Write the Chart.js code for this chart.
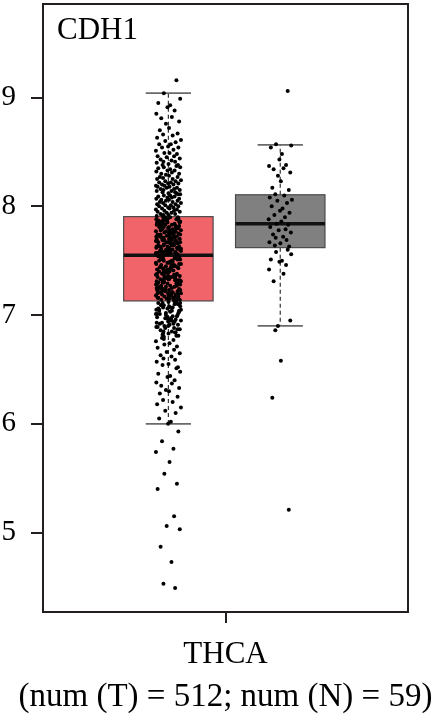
<!DOCTYPE html>
<html>
<head>
<meta charset="utf-8">
<script src="https://cdn.jsdelivr.net/npm/chart.js@4.4.1/dist/chart.umd.min.js"></script>
<style>
html,body{margin:0;padding:0;background:#fff;}
#wrap{width:435px;height:716px;}
canvas{display:block;}
</style>
</head>
<body>
<div id="wrap"><canvas id="c" width="435" height="716"></canvas></div>
<script>
// ---------------- DATA ----------------
const geneName = "CDH1";
const categories = ["THCA"];
const groupNames = ["T", "N"];
const groupCounts = [512, 59];
const yTickValues = [5, 6, 7, 8, 9];

// box statistics: [lower whisker, Q1, median, Q3, upper whisker]
const tumorBox = [6.00, 7.13, 7.55, 7.905, 9.04];
const normalBox = [6.90, 7.62, 7.84, 8.106, 8.565];

// tumor expression values (log2(TPM+1)), read from the strip
const tumorValues = [
  9.16, 9.04, 8.99, 8.95, 8.93, 8.91, 8.88, 8.85, 8.82, 8.81, 8.78, 8.76, 8.72, 8.70, 8.67, 8.66, 8.65, 8.63, 8.61, 8.60,
  8.59, 8.57, 8.57, 8.55, 8.54, 8.54, 8.52, 8.51, 8.49, 8.49, 8.48, 8.46, 8.46, 8.45, 8.44, 8.43, 8.42, 8.41, 8.41, 8.40,
  8.39, 8.38, 8.38, 8.37, 8.36, 8.36, 8.35, 8.34, 8.33, 8.33, 8.32, 8.31, 8.30, 8.30, 8.29, 8.28, 8.27, 8.27, 8.26, 8.25,
  8.25, 8.24, 8.23, 8.23, 8.22, 8.22, 8.21, 8.21, 8.20, 8.20,
  8.19, 8.18, 8.19, 8.17, 8.18, 8.16, 8.17, 8.15, 8.16, 8.14, 8.15, 8.13, 8.14, 8.12, 8.13, 8.11, 8.12, 8.10, 8.11, 8.09,
  8.10, 8.08, 8.09, 8.07, 8.08, 8.06, 8.07, 8.05, 8.06, 8.04, 8.05, 8.03, 8.04, 8.02, 8.03, 8.01, 8.02, 8.00, 8.01, 7.99,
  8.00, 7.98, 7.99, 7.97, 7.98, 7.96, 7.97, 7.95, 7.96, 7.94, 7.95, 7.93, 7.94, 7.92, 7.93, 7.91, 7.92, 7.91,
  7.90, 7.88, 7.89, 7.86, 7.87, 7.90, 7.85, 7.84, 7.88, 7.83, 7.86, 7.82, 7.89, 7.81, 7.84, 7.80,
  7.87, 7.79, 7.85, 7.78, 7.83, 7.77, 7.81, 7.76, 7.80, 7.75, 7.79, 7.74, 7.77, 7.73, 7.76, 7.72,
  7.74, 7.71, 7.73, 7.70, 7.72, 7.69, 7.71, 7.68, 7.70, 7.67, 7.69, 7.66, 7.68, 7.65, 7.67, 7.64,
  7.66, 7.63, 7.65, 7.62, 7.64, 7.61, 7.63, 7.60, 7.62, 7.59, 7.61, 7.58, 7.60, 7.57, 7.59, 7.56,
  7.58, 7.55, 7.57, 7.56, 7.89, 7.82, 7.75, 7.68, 7.61, 7.87, 7.80, 7.73, 7.66, 7.59, 7.85, 7.78,
  7.71, 7.64, 7.57, 7.83, 7.76, 7.69, 7.62, 7.55, 7.81, 7.74, 7.67, 7.60, 7.88, 7.79, 7.72, 7.65,
  7.58, 7.86, 7.77, 7.70, 7.63, 7.56, 7.84, 7.75, 7.68, 7.61, 7.90, 7.82, 7.73, 7.66, 7.59, 7.80,
  7.71, 7.64, 7.57, 7.78, 7.69, 7.62, 7.55, 7.76, 7.67, 7.60, 7.74, 7.65, 7.58, 7.72, 7.63, 7.56,
  7.54, 7.52, 7.53, 7.50, 7.51, 7.54, 7.49, 7.48, 7.52, 7.47, 7.50, 7.46, 7.53, 7.45, 7.48, 7.44,
  7.51, 7.43, 7.49, 7.42, 7.47, 7.41, 7.45, 7.40, 7.44, 7.39, 7.43, 7.38, 7.41, 7.37, 7.40, 7.36,
  7.38, 7.35, 7.37, 7.34, 7.36, 7.33, 7.35, 7.32, 7.34, 7.31, 7.33, 7.30, 7.32, 7.29, 7.31, 7.28,
  7.30, 7.27, 7.29, 7.26, 7.28, 7.25, 7.27, 7.24, 7.26, 7.23, 7.25, 7.22, 7.24, 7.21, 7.23, 7.20,
  7.22, 7.19, 7.21, 7.18, 7.20, 7.17, 7.19, 7.16, 7.18, 7.15, 7.17, 7.14, 7.16, 7.13, 7.15, 7.14,
  7.53, 7.46, 7.39, 7.32, 7.25, 7.18, 7.51, 7.44, 7.37, 7.30, 7.23, 7.16, 7.49, 7.42, 7.35, 7.28,
  7.21, 7.14, 7.47, 7.40, 7.33, 7.26, 7.19, 7.52, 7.45, 7.38, 7.31, 7.24, 7.17, 7.50, 7.43, 7.36,
  7.29, 7.22, 7.15, 7.48, 7.41, 7.34, 7.27, 7.20, 7.46, 7.39, 7.32, 7.25, 7.18, 7.42, 7.35, 7.28,
  7.12, 7.11, 7.10, 7.12, 7.09, 7.08, 7.11, 7.07, 7.06, 7.10, 7.05, 7.04, 7.09, 7.03, 7.02, 7.08,
  7.01, 7.00, 7.07, 6.99, 6.98, 7.05, 6.97, 6.96, 7.04, 6.95, 6.94, 7.02, 6.93, 6.92, 7.01, 6.91,
  6.90, 6.99, 6.89, 6.88, 6.97, 6.87, 6.86, 6.95, 6.85, 6.84, 6.93, 6.83, 6.82, 6.91, 6.81, 6.80,
  7.11, 7.06, 7.03, 6.98, 6.94, 6.89, 6.85, 7.09, 7.04, 7.00, 6.96, 6.92, 6.87, 6.83, 7.07, 7.01,
  6.95, 6.88, 6.84, 7.05, 6.97, 6.90, 6.81,
  6.79, 6.77, 6.76, 6.74, 6.73, 6.71, 6.70, 6.68, 6.66, 6.65, 6.63, 6.62, 6.60, 6.59, 6.57, 6.55, 6.54, 6.52, 6.51, 6.78,
  6.48, 6.46, 6.44, 6.43, 6.40, 6.38, 6.37, 6.35, 6.33, 6.31, 6.30, 6.28, 6.25, 6.22, 6.20, 6.18, 6.15, 6.12, 6.10, 6.05, 6.02, 6.00,
  5.93, 5.84, 5.77, 5.74, 5.65, 5.54, 5.45, 5.40, 5.15, 5.06, 5.03, 4.87, 4.73, 4.53, 4.49
];

// normal expression values
const normalValues = [
  9.06, 8.57, 8.56, 8.54, 8.48, 8.43, 8.38, 8.37, 8.35, 8.34, 8.31, 8.28, 8.23, 8.17, 8.15,
  8.11, 8.10, 8.08, 8.06, 8.05, 8.03, 8.00, 7.98, 7.96, 7.94, 7.92, 7.90, 7.88, 7.86,
  7.84, 7.83, 7.81, 7.79, 7.78, 7.76, 7.74, 7.72, 7.71, 7.69, 7.67, 7.66, 7.64, 7.63,
  7.60, 7.58, 7.56, 7.51, 7.50, 7.49, 7.46, 7.42, 7.38, 7.31, 6.95, 6.90, 6.58, 6.24, 5.21, 6.86
];

// horizontal jitter pattern for the strip (fraction of strip half-width)
const jitter = [
  0.62, -0.35, 0.91, -0.78, 0.14, -0.07, 0.48, -0.93, 0.27, -0.55, 0.83, -0.19, 0.05, -0.66, 0.71,
  -0.41, 0.33, -0.87, 0.97, -0.24, 0.56, -0.71, 0.19, -0.02, 0.77, -0.49, 0.39, -0.96, 0.09, -0.31,
  0.66, -0.83, 0.44, -0.13, 0.88, -0.60, 0.24, -0.38, 0.52, -0.90, 0.01, -0.45, 0.74
];

// ---------------- LAYOUT / STYLE ----------------
const FONT = "'Liberation Serif', 'Times New Roman', serif";
const INK = '#231f20';
const groupCenters = [-0.313, 0.300];
const stripHalf = [0.071, 0.066];
const BOX_HALF = 0.245;
const CAP_HALF = 0.124;
const boxFills = ['#f0646a', '#808080'];
const boxStats = [tumorBox, normalBox];

function stripPoints(values, g) {
  return values.map((v, i) => ({ x: groupCenters[g] + jitter[i % jitter.length] * stripHalf[g], y: v }));
}

const boxPlugin = {
  id: 'boxes',
  beforeDatasetsDraw(chart) {
    const { ctx, scales: { x, y } } = chart;
    boxStats.forEach((st, i) => {
      const c = groupCenters[i];
      const [lo, q1, med, q3, hi] = st;
      const xc = x.getPixelForValue(c);
      const xl = x.getPixelForValue(c - BOX_HALF), xr = x.getPixelForValue(c + BOX_HALF);
      const cl = x.getPixelForValue(c - CAP_HALF), cr = x.getPixelForValue(c + CAP_HALF);
      ctx.save();
      // whiskers
      ctx.strokeStyle = '#333';
      ctx.lineWidth = 1.2;
      ctx.setLineDash([4, 3]);
      ctx.beginPath();
      ctx.moveTo(xc, y.getPixelForValue(q3)); ctx.lineTo(xc, y.getPixelForValue(hi));
      ctx.moveTo(xc, y.getPixelForValue(q1)); ctx.lineTo(xc, y.getPixelForValue(lo));
      ctx.stroke();
      ctx.setLineDash([]);
      // caps
      ctx.strokeStyle = '#6a6a6a';
      ctx.lineWidth = 1.8;
      ctx.beginPath();
      ctx.moveTo(cl, y.getPixelForValue(hi)); ctx.lineTo(cr, y.getPixelForValue(hi));
      ctx.moveTo(cl, y.getPixelForValue(lo)); ctx.lineTo(cr, y.getPixelForValue(lo));
      ctx.stroke();
      // box
      const yt = y.getPixelForValue(q3), yb = y.getPixelForValue(q1);
      ctx.fillStyle = boxFills[i];
      ctx.fillRect(xl, yt, xr - xl, yb - yt);
      ctx.strokeStyle = '#4a4a4a';
      ctx.lineWidth = 1.2;
      ctx.strokeRect(xl, yt, xr - xl, yb - yt);
      // median
      ctx.strokeStyle = '#111';
      ctx.lineWidth = 3.5;
      ctx.beginPath();
      ctx.moveTo(xl, y.getPixelForValue(med)); ctx.lineTo(xr, y.getPixelForValue(med));
      ctx.stroke();
      ctx.restore();
    });
  },
  afterDraw(chart) {
    const { ctx, chartArea: a, scales: { x } } = chart;
    ctx.save();
    ctx.strokeStyle = INK;
    ctx.lineWidth = 2;
    ctx.strokeRect(a.left, a.top, a.right - a.left, a.bottom - a.top);
    ctx.fillStyle = '#000';
    ctx.font = '31px ' + FONT;
    ctx.textAlign = 'left';
    ctx.textBaseline = 'alphabetic';
    ctx.fillText(geneName, a.left + 14, 39);
    ctx.font = '33px ' + FONT;
    ctx.textAlign = 'center';
    ctx.fillText('(num (' + groupNames[0] + ') = ' + groupCounts[0] + '; num (' + groupNames[1] + ') = ' + groupCounts[1] + ')', x.getPixelForValue(0), 706);
    ctx.restore();
  }
};

Chart.defaults.font.family = FONT;
Chart.defaults.color = '#000';

new Chart(document.getElementById('c'), {
  type: 'scatter',
  data: {
    datasets: [
      { label: groupNames[0], data: stripPoints(tumorValues, 0), pointRadius: 2, pointBackgroundColor: '#000', pointBorderWidth: 0 },
      { label: groupNames[1], data: stripPoints(normalValues, 1), pointRadius: 2, pointBackgroundColor: '#000', pointBorderWidth: 0 }
    ]
  },
  options: {
    responsive: false,
    animation: false,
    events: [],
    layout: { padding: { top: 1, right: 27, left: 0, bottom: 0 } },
    plugins: { legend: { display: false }, tooltip: { enabled: false } },
    scales: {
      x: {
        type: 'linear', min: -1, max: 1,
        afterBuildTicks: s => { s.ticks = [{ value: 0 }]; },
        afterFit: s => { s.height = 104; s.paddingLeft = 0; s.paddingRight = 0; },
        ticks: { callback: () => categories[0], font: { size: 31 }, padding: 13, color: '#000', maxRotation: 0 },
        grid: { drawOnChartArea: false, drawTicks: true, tickLength: 11, color: INK, lineWidth: 2 },
        border: { display: false }
      },
      y: {
        type: 'linear', min: 4.27, max: 9.86,
        afterBuildTicks: s => { s.ticks = yTickValues.map(v => ({ value: v })); },
        afterFit: s => { s.width = 43; s.paddingTop = 0; s.paddingBottom = 0; },
        ticks: { font: { size: 29 }, padding: 15, color: '#000' },
        grid: { drawOnChartArea: false, drawTicks: true, tickLength: 12, color: INK, lineWidth: 2 },
        border: { display: false }
      }
    }
  },
  plugins: [boxPlugin]
});
</script>
</body>
</html>
